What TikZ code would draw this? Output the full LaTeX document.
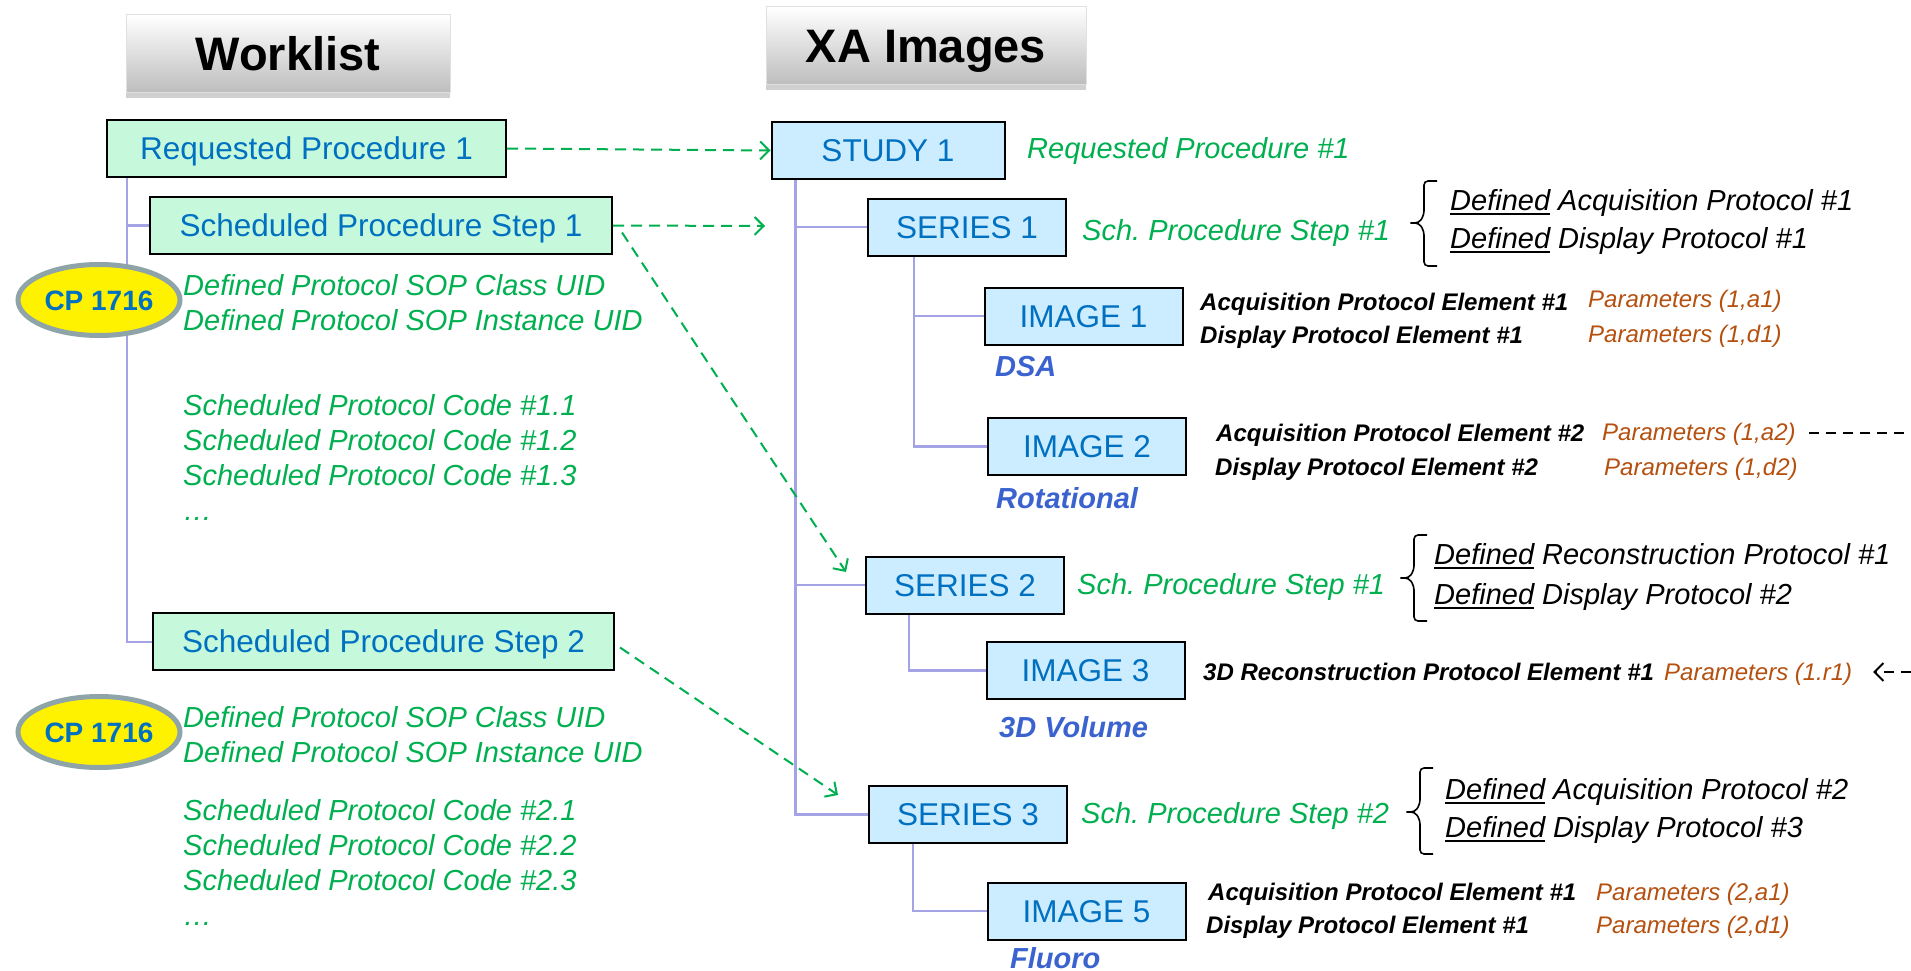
\documentclass[tikz,border=0pt]{standalone}
\usepackage{fontspec}
\setmainfont{Liberation Sans}
\usetikzlibrary{arrows.meta,shadows,shapes.geometric}
\definecolor{boxblue}{HTML}{0070C0}
\definecolor{gtext}{HTML}{00B050}
\definecolor{mint}{HTML}{C6F9DC}
\definecolor{lblue}{HTML}{CCECFF}
\definecolor{treec}{HTML}{A3A3E6}
\definecolor{cpgray}{HTML}{8EA4A8}
\definecolor{paramc}{HTML}{B5500F}
\definecolor{lblc}{HTML}{3B63D0}
\frenchspacing
\newcommand{\myfs}[1]{\fontsize{#1}{#1}\selectfont}
\newcommand{\dunder}[1]{\leavevmode\setbox0\hbox{#1}\rlap{\rule[-5pt]{\wd0}{2.5pt}}\box0\relax}
\tikzset{
  wbox/.style={draw=black, line width=2pt, fill=mint, text=boxblue, font=\myfs{31.5}, inner sep=0pt,
    text height=22.5pt, text depth=0pt, align=center},
  ibox/.style={wbox, fill=lblue, minimum width=198pt, minimum height=57pt},
  hdr/.style={draw=black!12, line width=1pt, top color=white, bottom color=black!26,
    font=\myfs{47}\bfseries, inner sep=0pt, text height=33.5pt, text depth=0pt,
    minimum height=78pt, drop shadow={shadow xshift=0pt, shadow yshift=-5pt, opacity=0.3, fill=black!60}},
  cp/.style={ellipse, draw=cpgray, line width=5pt, fill=yellow, text=boxblue, font=\myfs{28}\bfseries,
    minimum width=162pt, minimum height=71pt, inner sep=0pt, text height=20pt, text depth=0pt},
  tree/.style={draw=treec, line width=2.2pt},
  gt/.style={anchor=base west, inner sep=0pt, text=gtext, font=\myfs{29}\itshape},
  kt/.style={anchor=base west, inner sep=0pt, text=black, font=\myfs{29}\itshape},
  bk/.style={anchor=base west, inner sep=0pt, text=black, font=\myfs{24}\bfseries\itshape},
  pm/.style={anchor=base west, inner sep=0pt, text=paramc, font=\myfs{24}\itshape},
  bl/.style={anchor=base west, inner sep=0pt, text=lblc, font=\myfs{29}\bfseries\itshape},
  garrow/.style={draw=gtext, line width=2pt, dash pattern=on 11pt off 7pt,
    -{Straight Barb[length=9pt,width=18pt]}},
  kdash/.style={draw=black, line width=2pt, dash pattern=on 10pt off 7pt},
  brc/.style={draw=black, line width=1.6pt, rounded corners=4pt}
}
\begin{document}
\begin{tikzpicture}[x=1pt,y=-1pt]
\useasboundingbox (0,0) rectangle (1911,971);
\clip (0,0) rectangle (1911,971);
\fill[white] (0,0) rectangle (1911,971);

% headers
\node[hdr, minimum width=324pt] (hwl) at (288,54) {Worklist};
\node[hdr, minimum width=320pt] (hxa) at (926,46) {XA Images};

% tree lines (drawn first, behind boxes and ellipses)
\draw[tree] (127,178) |- (152,642);
\draw[tree] (127,178) |- (150,225.5);
\draw[tree] (795.5,180) |- (869,814.5);
\draw[tree] (795.5,180) |- (868,227);
\draw[tree] (795.5,180) |- (866,585);
\draw[tree] (914,256) |- (988,446.5);
\draw[tree] (914,256) |- (984.5,316);
\draw[tree] (909,614) |- (986.5,670.5);
\draw[tree] (913,843) |- (987.5,911);

% worklist boxes
\node[wbox, minimum width=399pt, minimum height=57pt] (rp1) at (306.5,148.5) {Requested Procedure 1};
\node[wbox, minimum width=462pt, minimum height=57pt] (sps1) at (381,225.5) {Scheduled Procedure Step 1};
\node[wbox, minimum width=461pt, minimum height=57pt] (sps2) at (383.5,641.5) {Scheduled Procedure Step 2};

% XA boxes
\node[ibox, minimum width=233pt] (study1) at (888,150.5) {STUDY 1};
\node[ibox] (series1) at (967,227) {SERIES 1};
\node[ibox] (series2) at (965,585) {SERIES 2};
\node[ibox] (series3) at (968,814.5) {SERIES 3};
\node[ibox] (image1) at (1083.5,316) {IMAGE 1};
\node[ibox] (image2) at (1087,446.5) {IMAGE 2};
\node[ibox] (image3) at (1085.5,670.5) {IMAGE 3};
\node[ibox] (image5) at (1086.5,911) {IMAGE 5};

% CP ellipses
\node[cp] (cp1) at (99,300) {CP 1716};
\node[cp] (cp2) at (99,732) {CP 1716};

% left green texts
\node[gt] (d1a) at (183,295) {Defined Protocol SOP Class UID};
\node[gt] (d1b) at (183,330) {Defined Protocol SOP Instance UID};
\node[gt] (c11) at (183,415) {Scheduled Protocol Code \#1.1};
\node[gt] (c12) at (183,450) {Scheduled Protocol Code \#1.2};
\node[gt] (c13) at (183,485) {Scheduled Protocol Code \#1.3};
\node[gt] (c1d) at (183,520) {…};
\node[gt] (d2a) at (183,727) {Defined Protocol SOP Class UID};
\node[gt] (d2b) at (183,762) {Defined Protocol SOP Instance UID};
\node[gt] (c21) at (183,820) {Scheduled Protocol Code \#2.1};
\node[gt] (c22) at (183,855) {Scheduled Protocol Code \#2.2};
\node[gt] (c23) at (183,890) {Scheduled Protocol Code \#2.3};
\node[gt] (c2d) at (183,925) {…};

% green labels right
\node[gt] (lrp) at (1027,158) {Requested Procedure \#1};
\node[gt] (ls1) at (1082,240) {Sch.\ Procedure Step \#1};
\node[gt] (ls2) at (1077,594) {Sch.\ Procedure Step \#1};
\node[gt] (ls3) at (1081,823) {Sch.\ Procedure Step \#2};

% braces
\draw[brc] (1437,181) -- (1424,181) -- (1424,215) -- (1419,223) -- (1408,223) -- (1419,223) -- (1424,231) -- (1424,266) -- (1437,266);
\draw[brc] (1427,535) -- (1414,535) -- (1414,570) -- (1409,578) -- (1398,578) -- (1409,578) -- (1414,586) -- (1414,621) -- (1427,621);
\draw[brc] (1433,768) -- (1420,768) -- (1420,804) -- (1415,812) -- (1404,812) -- (1415,812) -- (1420,820) -- (1420,854) -- (1433,854);

% defined protocols
\node[kt] (dp1a) at (1450,210) {\dunder{Defined} Acquisition Protocol \#1};
\node[kt] (dp1b) at (1450,248) {\dunder{Defined} Display Protocol \#1};
\node[kt] (dp2a) at (1434,564) {\dunder{Defined} Reconstruction Protocol \#1};
\node[kt] (dp2b) at (1434,604) {\dunder{Defined} Display Protocol \#2};
\node[kt] (dp3a) at (1445,799) {\dunder{Defined} Acquisition Protocol \#2};
\node[kt] (dp3b) at (1445,837) {\dunder{Defined} Display Protocol \#3};

% image labels
\node[bl] (ldsa) at (995,376) {DSA};
\node[bl] (lrot) at (996,508) {Rotational};
\node[bl] (l3d) at (999,737) {3D Volume};
\node[bl] (lflu) at (1010,968) {Fluoro};

% protocol elements
\node[bk] (e1a) at (1200,310) {Acquisition Protocol Element \#1};
\node[bk] (e1b) at (1200,343) {Display Protocol Element \#1};
\node[pm] (p1a) at (1588,307) {Parameters (1,a1)};
\node[pm] (p1b) at (1588,342) {Parameters (1,d1)};
\node[bk] (e2a) at (1216,441) {Acquisition Protocol Element \#2};
\node[bk] (e2b) at (1215,475) {Display Protocol Element \#2};
\node[pm] (p2a) at (1602,440) {Parameters (1,a2)};
\node[pm] (p2b) at (1604,475) {Parameters (1,d2)};
\node[bk] (e3a) at (1203,680) {3D Reconstruction Protocol Element \#1};
\node[pm] (p3a) at (1664,680) {Parameters (1.r1)};
\node[bk] (e5a) at (1208,900) {Acquisition Protocol Element \#1};
\node[bk] (e5b) at (1206,933) {Display Protocol Element \#1};
\node[pm] (p5a) at (1596,900) {Parameters (2,a1)};
\node[pm] (p5b) at (1596,933) {Parameters (2,d1)};

% green arrows
\coordinate (s1end) at (765,226);
\coordinate (s2tip) at (846,572);
\coordinate (s3tip) at (838,795);
\draw[garrow] (rp1.east) -- (study1.west);
\draw[garrow] (sps1.east) -- (s1end);
\draw[garrow] ([xshift=9pt,yshift=-7pt]sps1.east) -- (s2tip);
\draw[garrow] ([xshift=5pt,yshift=-6pt]sps2.east) -- (s3tip);

% black dashed
\coordinate (a2start) at (1809,433);
\coordinate (a2end) at (1911,433);
\draw[kdash] (a2start) -- (a2end);
\coordinate (r1tip) at (1873,672);
\coordinate (r1end) at (1911,672);
\draw[kdash, -{Straight Barb[length=9pt,width=18pt]}] (r1end) -- (r1tip);
\end{tikzpicture}
\end{document}
